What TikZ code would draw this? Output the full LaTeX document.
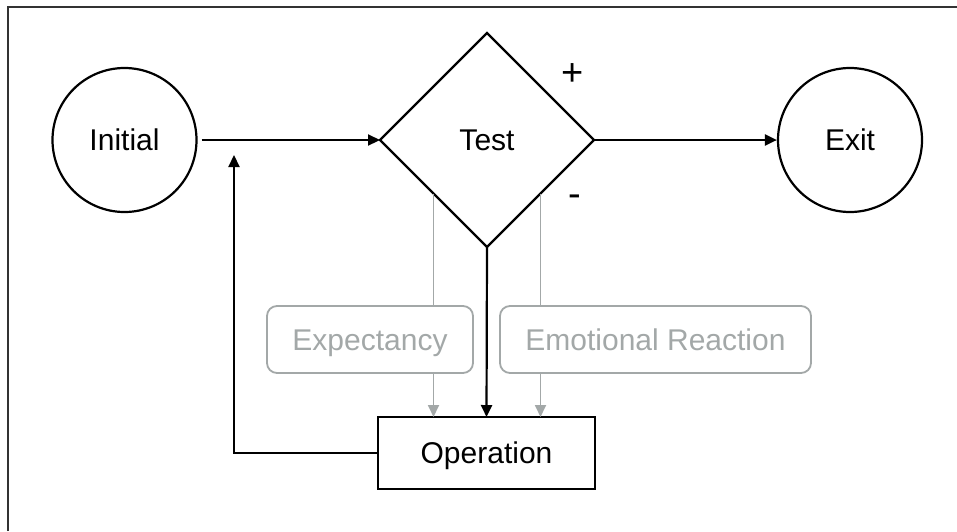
\documentclass[tikz,border=0pt]{standalone}
\usepackage{fontspec}
\setmainfont{Liberation Sans}
\usetikzlibrary{shapes.geometric,arrows.meta}
\definecolor{softgrey}{HTML}{A3A8A8}
\definecolor{framegrey}{HTML}{333333}
\tikzset{
  txt/.style={font=\fontsize{30}{32}\selectfont,text height=21.5pt,text depth=0pt},
  circ/.style={circle,draw,line width=2.2pt,minimum size=144pt,inner sep=0pt,txt},
  dia/.style={diamond,draw,line width=2.2pt,minimum width=214pt,minimum height=214pt,inner sep=0pt,outer sep=0pt,txt},
  opbox/.style={rectangle,draw,line width=2.2pt,minimum width=217pt,minimum height=72pt,inner sep=0pt,outer sep=0pt,txt},
  greybox/.style={rectangle,rounded corners=10pt,draw=softgrey,line width=1.8pt,text=softgrey,minimum height=67pt,inner sep=0pt,txt},
  signlbl/.style={font=\fontsize{38}{40}\selectfont},
  blk/.style={line width=2.2pt,-{Triangle[length=12pt,width=11pt]}},
  gry/.style={line width=1.8pt,draw=softgrey},
  gryarr/.style={gry,-{Triangle[length=12pt,width=11pt,fill=softgrey]}},
}
\begin{document}
\begin{tikzpicture}[x=1pt,y=-1pt]
\useasboundingbox (0,0) rectangle (957,531);
\draw[framegrey,line width=2.2pt] (8,531) -- (8,7) -- (957,7);

\node[circ] (I) at (124.5,140) {Initial};
\node[circ] (X) at (850,140) {Exit};
\node[dia] (T) at (487,140) {Test};
\node[opbox] (O) at (486.5,453) {Operation};
\node[greybox,minimum width=206pt] (E) at (370,339.5) {Expectancy};
\node[greybox,minimum width=311pt] (R) at (655.5,339.5) {Emotional Reaction};

\node[signlbl] (plus) at (573,75) {+};
\node[signlbl] (minus) at (575,201) {-};

\draw[blk] (I.east) ++(4,0) coordinate (Iout) -- (T.west);
\draw[blk] (T.east) -- (X.west);
\draw[blk] (T.south) -- (O.north);
\coordinate (fb) at (234,155);
\draw[blk] (O.west) -| (fb);

\draw[gry] (T.south west) -- (T.south west |- E.north);
\draw[gryarr] (T.south west |- E.south) -- (T.south west |- O.north);
\draw[gry] (T.south east) -- (T.south east |- R.north);
\draw[gryarr] (T.south east |- R.south) -- (T.south east |- O.north);
\end{tikzpicture}
\end{document}
